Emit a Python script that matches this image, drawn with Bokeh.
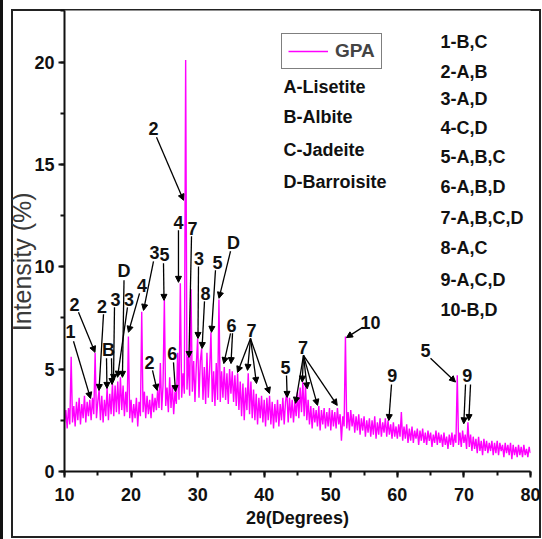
from bokeh.plotting import figure
from bokeh.models import (ColumnDataSource, Range1d, SingleIntervalTicker, Legend, LegendItem,
                          Arrow, NormalHead)
from bokeh.core.properties import value
from bokeh.embed import file_html
from bokeh.resources import INLINE

# ---------------- data ----------------
two_theta_start = 10.0
two_theta_step = 0.2
intensity = [
    2.4, 3.0, 2.1, 3.1, 2.3, 5.6, 2.4, 3.2, 2.2, 3.4,
    2.5, 3.6, 2.3, 3.3, 2.6, 3.7, 2.4, 3.4, 2.7, 3.5,
    2.5, 3.6, 2.8, 5.8, 2.6, 3.4, 4.0, 2.5, 3.7, 2.4,
    3.5, 2.7, 4.1, 2.5, 3.8, 2.8, 4.3, 2.7, 4.2, 2.9,
    4.4, 2.8, 4.6, 3.0, 4.2, 2.7, 3.9, 2.9, 6.6, 2.6,
    3.5, 2.4, 3.3, 2.6, 3.6, 2.2, 3.4, 2.7, 7.8, 2.9,
    3.9, 2.6, 3.7, 2.8, 3.5, 2.6, 3.8, 2.9, 3.6, 3.0,
    4.0, 3.1, 5.3, 3.0, 4.2, 8.4, 3.2, 4.1, 2.9, 4.6,
    3.1, 4.2, 2.8, 3.9, 3.3, 5.8, 3.5, 9.2, 3.6, 4.8,
    3.8, 20.1, 4.0, 5.6, 3.7, 8.9, 3.9, 5.4, 3.4, 5.2,
    6.5, 3.6, 5.4, 6.0, 3.5, 5.1, 3.3, 5.8, 3.6, 5.0,
    6.8, 3.4, 4.9, 3.2, 5.3, 3.5, 8.4, 3.4, 4.9, 3.6,
    5.1, 3.5, 4.8, 3.3, 5.0, 3.8, 4.9, 3.4, 4.7, 3.2,
    4.8, 3.0, 4.4, 2.7, 4.3, 2.5, 4.1, 3.0, 4.8, 2.8,
    4.4, 2.6, 4.0, 2.5, 3.8, 2.3, 3.6, 2.6, 3.7, 2.4,
    3.5, 2.2, 3.6, 2.5, 3.7, 2.3, 3.4, 2.1, 3.3, 2.4,
    3.5, 2.2, 3.3, 2.5, 3.6, 2.3, 3.4, 3.9, 2.4, 3.6,
    2.6, 3.5, 2.4, 3.4, 2.7, 3.9, 2.6, 4.1, 2.9, 4.4,
    2.7, 4.2, 2.5, 3.5, 2.3, 3.2, 2.1, 3.1, 2.4, 3.0,
    2.2, 3.2, 2.0, 3.0, 2.3, 3.1, 2.1, 2.9, 2.2, 3.1,
    2.0, 3.0, 2.2, 2.9, 2.1, 3.1, 2.3, 2.8, 1.5, 2.7,
    2.2, 6.6, 2.1, 2.9, 2.0, 3.0, 2.2, 2.8, 1.9, 2.7,
    2.0, 2.8, 1.8, 2.6, 2.0, 2.7, 1.7, 2.5, 1.9, 2.6,
    1.7, 2.5, 1.8, 2.7, 1.6, 2.4, 1.8, 2.6, 1.7, 2.4,
    1.9, 2.6, 1.7, 2.5, 1.8, 2.3, 1.6, 2.4, 1.7, 2.2,
    1.6, 2.3, 1.7, 2.9, 1.5, 2.2, 1.6, 2.3, 1.4, 2.1,
    1.5, 2.2, 1.4, 2.0, 1.6, 2.1, 1.3, 2.0, 1.5, 2.1,
    1.4, 1.9, 1.3, 2.0, 1.5, 1.9, 1.2, 1.8, 1.4, 2.0,
    1.3, 1.9, 1.4, 1.8, 1.2, 1.9, 1.3, 1.7, 1.1, 1.8,
    1.3, 1.9, 1.2, 1.8, 1.4, 4.7, 1.3, 1.9, 1.2, 2.0,
    1.4, 1.8, 1.1, 2.4, 1.2, 1.8, 1.0, 1.7, 1.1, 1.6,
    0.9, 1.7, 1.0, 1.5, 0.8, 1.6, 1.0, 1.5, 0.9, 1.4,
    1.0, 1.5, 0.8, 1.4, 0.9, 1.5, 0.8, 1.4, 1.0, 1.3,
    0.7, 1.4, 0.9, 1.3, 0.8, 1.4, 0.6, 1.3, 0.8, 1.2,
    0.7, 1.3, 0.8, 1.2, 0.7, 1.3, 0.8, 1.1, 0.7, 1.2,
    0.9,
]
two_theta = [round(two_theta_start + two_theta_step * i, 2) for i in range(len(intensity))]

series_name = "GPA"
x_title = "2θ(Degrees)"
y_title = "Intensity (%)"
phase_labels = ["A-Lisetite", "B-Albite", "C-Jadeite", "D-Barroisite"]
combo_labels = ["1-B,C", "2-A,B", "3-A,D", "4-C,D", "5-A,B,C", "6-A,B,D",
                "7-A,B,C,D", "8-A,C", "9-A,C,D", "10-B,D"]

# peak tags (text, 2theta, intensity)
tag_text = ["1", "2", "2", "B", "3", "D", "3", "4", "3", "5", "2", "4", "7", "3", "8",
            "5", "D", "2", "6", "6", "7", "5", "7", "10", "9", "5", "9"]
tag_x = [10.90, 11.50, 15.63, 16.61, 17.66, 18.94, 19.69, 21.64, 23.52, 25.02, 23.37,
         27.12, 29.23, 30.20, 31.18, 32.98, 35.39, 22.77, 26.18, 35.09, 38.09, 43.20,
         45.83, 55.97, 59.23, 64.23, 70.49]
tag_y = [6.85, 8.17, 8.07, 5.92, 8.41, 9.78, 8.41, 9.10, 10.71, 10.61, 16.77,
         12.18, 11.88, 10.42, 8.70, 10.22, 11.15, 5.34, 5.76, 7.14, 6.89, 5.10,
         6.06, 7.30, 4.69, 5.92, 4.69]

# arrows from tags to peaks
arrow_x0 = [11.35, 12.10, 15.86, 16.31, 17.06, 17.51, 18.94, 19.46, 21.27, 23.37, 24.87,
            23.82, 27.12, 29.08, 30.13, 31.03, 32.68, 34.94, 23.22, 26.37, 34.94, 35.24,
            37.94, 37.94, 37.94, 37.94, 43.35, 45.90, 45.90, 45.90, 45.90, 45.90,
            54.77, 59.12, 64.98, 70.24, 70.99]
arrow_y0 = [6.36, 7.78, 7.68, 5.53, 5.53, 8.02, 9.34, 8.02, 8.70, 10.27, 10.17,
            16.33, 11.78, 11.49, 10.02, 8.31, 9.83, 10.76, 4.94, 5.33, 6.75, 6.75,
            6.50, 6.50, 6.50, 6.50, 4.69, 5.67, 5.67, 5.67, 5.67, 5.67,
            7.04, 4.25, 5.53, 4.25, 4.25]
arrow_x1 = [13.91, 14.58, 15.18, 16.38, 17.14, 17.36, 18.70, 17.96, 19.61, 21.87, 24.95,
            27.88, 27.12, 28.70, 30.05, 30.66, 32.08, 33.21, 23.92, 26.67, 33.93, 35.01,
            35.99, 37.49, 38.84, 40.79, 43.45, 44.70, 45.71, 46.46, 48.01, 50.97,
            52.36, 58.72, 68.74, 69.98, 70.73]
arrow_y1 = [3.57, 5.82, 3.96, 4.06, 4.25, 4.45, 4.60, 4.60, 6.80, 7.87, 8.36,
            13.25, 9.24, 5.57, 6.50, 6.01, 6.80, 8.46, 3.96, 3.91, 5.27, 5.27,
            4.84, 4.94, 4.30, 3.81, 3.62, 3.33, 4.37, 4.04, 3.23, 3.23,
            6.54, 2.49, 4.37, 2.33, 2.49]

# positions of the key texts (data coordinates)
phase_x = 42.90
phase_y = [18.78, 17.31, 15.70, 14.13]
combo_x = 66.48
combo_y = [20.98, 19.51, 18.19, 16.77, 15.35, 13.89, 12.37, 10.90, 9.34, 7.87]

FONT = "Liberation Sans"

# outer frame of the picture, drawn as CSS background lines behind a transparent border
frame_styles = {
    "background-color": "white",
    "background-image": ", ".join(["linear-gradient(#111111, #111111)"] + ["linear-gradient(#222222, #222222)"] * 4),
    "background-size": "3px 539px, 2px 529px, 2px 529px, 530px 2px, 530px 2px",
    "background-position": "0px 0px, 11px 9px, 539px 9px, 11px 9px, 11px 536px",
    "background-repeat": "no-repeat",
}

p = figure(width=542, height=539, output_backend="svg", toolbar_location=None,
           x_range=Range1d(10, 80), y_range=Range1d(0, 22.52),
           min_border_left=64, min_border_right=12, min_border_top=10, min_border_bottom=68,
           styles=frame_styles)
p.grid.visible = False
p.outline_line_color = None
p.background_fill_color = "white"
p.border_fill_alpha = 0

line = p.line(two_theta, intensity, line_color="#ff00ff", line_width=1.4)

p.xaxis.ticker = SingleIntervalTicker(interval=10, num_minor_ticks=2)
p.yaxis.ticker = SingleIntervalTicker(interval=5, num_minor_ticks=2)
p.xaxis.axis_label = x_title
# trailing no-break spaces move the rotated title a little toward the bottom, as in the picture
p.yaxis.axis_label = y_title + "\u00a0" * 6
for ax in (p.xaxis[0], p.yaxis[0]):
    ax.axis_line_width = 2
    ax.axis_line_color = "#111111"
    ax.major_tick_line_width = 2
    ax.minor_tick_line_width = 2
    ax.major_tick_line_color = "#111111"
    ax.minor_tick_line_color = "#111111"
    ax.major_tick_in = 0
    ax.major_tick_out = 6
    ax.minor_tick_in = 0
    ax.minor_tick_out = 4
    ax.major_label_text_font = FONT
    ax.major_label_text_font_style = "bold"
    ax.major_label_text_font_size = "18px"
    ax.major_label_text_color = "#111111"
    ax.axis_label_text_font = FONT
    ax.axis_label_text_color = "#111111"
    ax.axis_label_text_font_style = "bold"
p.xaxis.major_label_standoff = 10
p.xaxis.axis_label_text_font_size = "18px"
p.xaxis.axis_label_standoff = 4
p.yaxis.major_label_standoff = 4
p.yaxis.axis_label_text_font_size = "25px"
p.yaxis.axis_label_text_font_style = "normal"
p.yaxis.axis_label_standoff = -5
p.yaxis.axis_label_text_color = "#3a3a3a"

# tags and arrows
p.text(x=tag_x, y=tag_y, text=tag_text, text_font=value(FONT), text_font_size=value("18px"),
       text_font_style="bold", text_align="center", text_baseline="middle", text_color="#111111")
arrow_src = ColumnDataSource(dict(x0=arrow_x0, y0=arrow_y0, x1=arrow_x1, y1=arrow_y1))
p.add_layout(Arrow(end=NormalHead(size=6, fill_color="black", line_color="black", line_width=1),
                   x_start="x0", y_start="y0", x_end="x1", y_end="y1", source=arrow_src,
                   line_width=1.3, line_color="black"))

# key texts
p.text(x=[phase_x] * len(phase_labels), y=phase_y, text=phase_labels, text_font=value(FONT),
       text_font_size=value("18px"), text_font_style="bold", text_align="left",
       text_baseline="middle", text_color="#111111")
p.text(x=[combo_x] * len(combo_labels), y=combo_y, text=combo_labels, text_font=value(FONT),
       text_font_size=value("18px"), text_font_style="bold", text_align="left",
       text_baseline="middle", text_color="#111111")

legend = Legend(items=[LegendItem(label=series_name, renderers=[line])], location=(217, 402),
                border_line_color="black", border_line_width=1.5, padding=6, margin=0,
                glyph_width=40, glyph_height=20, label_standoff=7, label_height=20,
                label_text_font=FONT, label_text_font_size="19px", label_text_font_style="bold",
                background_fill_color="white", background_fill_alpha=1)
p.add_layout(legend)

open("out.html", "w").write(file_html(p, INLINE))
